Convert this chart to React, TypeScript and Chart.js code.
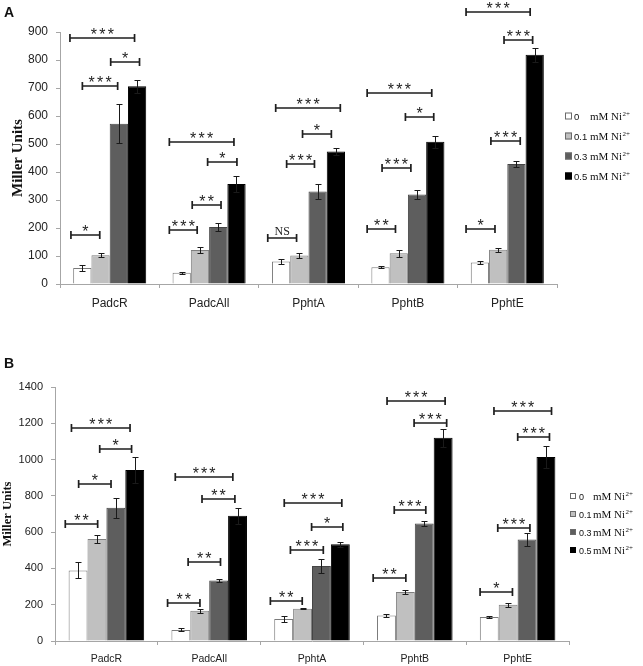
import React, { useEffect, useRef } from "react";
import { Chart, registerables } from "chart.js";

Chart.register(...registerables);

const SANS = '"Liberation Sans", Arial, sans-serif';
const SERIF = '"Liberation Serif", "Times New Roman", serif';

// ---------- shared data ----------
const categories = ["PadcR", "PadcAll", "PphtA", "PphtB", "PphtE"];
const doseLabels = ["0", "0.1", "0.3", "0.5"];
const unitLabel = "mM Ni";
const chargeLabel = "2+";
const fillColors = ["#ffffff", "#c0c0c0", "#5e5e5e", "#000000"];
const edgeColors = ["#7a7a7a", "#7f7f7f", "#454545", "#000000"];

// ---------- panel A ----------
const aTicks = { max: 900, step: 100 };
const aDose0 = [57, 40, 80, 60, 77];
const aDose01 = [103, 121, 102, 110, 122];
const aDose03 = [572, 204, 330, 320, 429];
const aDose05 = [706, 357, 473, 508, 819];
const aErr0 = [10, 4, 10, 3, 4];
const aErr01 = [6, 10, 10, 13, 8];
const aErr03 = [70, 15, 28, 17, 12];
const aErr05 = [24, 27, 12, 22, 25];
// [category index, left offset, right offset (category widths), y value, label]
const aBrackets: [number, number, number, number, string][] = [
  [0, -0.39, -0.1, 175, "*"],
  [0, -0.275, 0.08, 706, "***"],
  [0, 0.01, 0.3, 793, "*"],
  [0, -0.4, 0.25, 880, "***"],
  [1, -0.4, -0.12, 194, "***"],
  [1, -0.17, 0.12, 283, "**"],
  [1, -0.015, 0.28, 434, "*"],
  [1, -0.4, 0.25, 508, "***"],
  [2, -0.41, -0.12, 166, "NS"],
  [2, -0.22, 0.06, 427, "***"],
  [2, -0.06, 0.23, 536, "*"],
  [2, -0.33, 0.32, 628, "***"],
  [3, -0.41, -0.125, 195, "**"],
  [3, -0.26, 0.03, 414, "***"],
  [3, -0.025, 0.26, 596, "*"],
  [3, -0.41, 0.24, 681, "***"],
  [4, -0.415, -0.124, 196, "*"],
  [4, -0.165, 0.13, 511, "***"],
  [4, -0.033, 0.255, 870, "***"],
  [4, -0.415, 0.23, 970, "***"],
];

// ---------- panel B ----------
const bTicks = { max: 1400, step: 200 };
const bDose0 = [389, 61, 121, 141, 132];
const bDose01 = [562, 167, 178, 270, 200];
const bDose03 = [734, 334, 413, 648, 560];
const bDose05 = [942, 690, 533, 1120, 1014];
const bErr0 = [44, 8, 17, 10, 6];
const bErr01 = [20, 12, 4, 12, 10];
const bErr03 = [55, 10, 39, 12, 34];
const bErr05 = [70, 44, 15, 50, 63];
const bBrackets: [number, number, number, number, string][] = [
  [0, -0.4, -0.085, 645, "**"],
  [0, -0.27, 0.045, 865, "*"],
  [0, -0.065, 0.245, 1056, "*"],
  [0, -0.34, 0.23, 1175, "***"],
  [1, -0.405, -0.09, 211, "**"],
  [1, -0.205, 0.11, 435, "**"],
  [1, -0.07, 0.25, 784, "**"],
  [1, -0.33, 0.23, 905, "***"],
  [2, -0.405, -0.095, 222, "**"],
  [2, -0.21, 0.11, 501, "***"],
  [2, -0.004, 0.3, 628, "*"],
  [2, -0.27, 0.29, 762, "***"],
  [3, -0.405, -0.087, 347, "**"],
  [3, -0.2, 0.107, 720, "***"],
  [3, -0.007, 0.31, 1200, "***"],
  [3, -0.27, 0.295, 1321, "***"],
  [4, -0.365, -0.05, 270, "*"],
  [4, -0.193, 0.12, 623, "***"],
  [4, 0.001, 0.31, 1122, "***"],
  [4, -0.23, 0.33, 1266, "***"],
];

// ---------- plugins ----------
const errorBarPlugin = {
  id: "errorBars",
  afterDatasetsDraw(chart: any, _args: any, opts: any) {
    const errs: number[][] = opts.errors;
    const ys = chart.scales.y;
    const ctx = chart.ctx;
    ctx.save();
    ctx.strokeStyle = "#1a1a1a";
    ctx.lineWidth = 1;
    chart.data.datasets.forEach((ds: any, i: number) => {
      const meta = chart.getDatasetMeta(i);
      meta.data.forEach((bar: any, j: number) => {
        const v = ds.data[j] as number;
        const e = errs[i][j];
        const top = Math.round(ys.getPixelForValue(v + e)) + 0.5;
        const bot = Math.round(ys.getPixelForValue(v - e)) + 0.5;
        const x = Math.round(bar.x) + 0.5;
        ctx.beginPath();
        ctx.moveTo(x, top);
        ctx.lineTo(x, bot);
        ctx.moveTo(x - 3, top);
        ctx.lineTo(x + 3, top);
        ctx.moveTo(x - 3, bot);
        ctx.lineTo(x + 3, bot);
        ctx.stroke();
      });
    });
    ctx.restore();
  },
};

const bracketPlugin = {
  id: "sigBrackets",
  afterDraw(chart: any, _args: any, opts: any) {
    const xs = chart.scales.x;
    const ys = chart.scales.y;
    const ctx = chart.ctx;
    const catW = xs.width / chart.data.labels.length;
    ctx.save();
    ctx.strokeStyle = "#1e1e1e";
    ctx.fillStyle = "#1e1e1e";
    ctx.lineWidth = 1.7;
    (opts.brackets as [number, number, number, number, string][]).forEach(
      ([c, o1, o2, v, label]) => {
        const cx = xs.getPixelForValue(c);
        const x1 = cx + o1 * catW;
        const x2 = cx + o2 * catW;
        const y = Math.round(ys.getPixelForValue(v));
        ctx.beginPath();
        ctx.moveTo(x1, y);
        ctx.lineTo(x2, y);
        ctx.moveTo(x1, y - 4);
        ctx.lineTo(x1, y + 4);
        ctx.moveTo(x2, y - 4);
        ctx.lineTo(x2, y + 4);
        ctx.stroke();
        const mid = (x1 + x2) / 2;
        ctx.textAlign = "center";
        ctx.textBaseline = "alphabetic";
        if (label === "NS") {
          ctx.font = `12px ${SERIF}`;
          ctx.fillText(label, mid, y - 3);
        } else {
          ctx.font = `16px ${SANS}`;
          const n = label.length;
          const gap = opts.starGap;
          for (let k = 0; k < n; k++) {
            ctx.fillText("*", mid + (k - (n - 1) / 2) * gap, y + 1.5);
          }
        }
      }
    );
    ctx.restore();
  },
};

const doseLegendPlugin = {
  id: "doseLegend",
  afterDraw(chart: any, _args: any, opts: any) {
    const ctx = chart.ctx;
    const left = chart.chartArea.right + opts.dx;
    ctx.save();
    doseLabels.forEach((d, i) => {
      const cy = opts.firstY + i * opts.spacing;
      const box = opts.box;
      ctx.fillStyle = fillColors[i];
      ctx.fillRect(left, cy - box / 2, box, box);
      ctx.strokeStyle = i === 3 ? "#000" : "#6a6a6a";
      ctx.lineWidth = 1;
      ctx.strokeRect(left + 0.5, cy - box / 2 + 0.5, box - 1, box - 1);
      ctx.fillStyle = "#111";
      ctx.textAlign = "left";
      ctx.textBaseline = "alphabetic";
      const base = cy + 4;
      ctx.font = `${opts.numFont}px ${SANS}`;
      ctx.fillText(d, left + box + opts.numGap, base);
      ctx.font = `11px ${SERIF}`;
      const ux = left + opts.unitX;
      ctx.fillText(unitLabel, ux, base);
      const w = ctx.measureText(unitLabel).width;
      ctx.font = `7px ${SERIF}`;
      ctx.fillText(chargeLabel, ux + w + 0.5, base - 4);
    });
    ctx.restore();
  },
};

type PanelSpec = {
  values: number[][];
  errors: number[][];
  brackets: [number, number, number, number, string][];
  ticks: { max: number; step: number };
  height: number;
  padTop: number;
  padRight: number;
  yWidth: number;
  xHeight: number;
  xFont: number;
  yFont: number;
  xPad: number;
  titleFont: number;
  titlePad: number;
  legend: {
    dx: number;
    firstY: number;
    spacing: number;
    box: number;
    unitX: number;
    numFont: number;
    numGap: number;
  };
  starGap: number;
};

function makeConfig(p: PanelSpec): any {
  const axisColor = "#a6a6a6";
  return {
    type: "bar",
    data: {
      labels: categories,
      datasets: p.values.map((vals, i) => ({
        label: `${doseLabels[i]} ${unitLabel}${chargeLabel}`,
        data: vals,
        backgroundColor: fillColors[i],
        borderColor: edgeColors[i],
        borderWidth: 1,
        categoryPercentage: 0.735,
        barPercentage: 1,
      })),
    },
    options: {
      animation: false,
      responsive: false,
      events: [],
      layout: { padding: { top: p.padTop, right: p.padRight, bottom: 0, left: 0 } },
      scales: {
        x: {
          grid: {
            display: true,
            drawOnChartArea: false,
            drawTicks: true,
            tickLength: 4,
            color: axisColor,
            offset: true,
          },
          border: { color: axisColor, width: 1 },
          ticks: { font: { family: SANS, size: p.xFont }, color: "#222", padding: p.xPad },
          afterFit: (s: any) => {
            s.height = p.xHeight;
          },
        },
        y: {
          min: 0,
          max: p.ticks.max,
          ticks: {
            stepSize: p.ticks.step,
            font: { family: SANS, size: p.yFont },
            color: "#222",
            padding: 8,
            callback: (v: any) => String(v),
          },
          grid: {
            display: true,
            drawOnChartArea: false,
            drawTicks: true,
            tickLength: 4,
            color: axisColor,
          },
          border: { color: axisColor, width: 1 },
          title: {
            display: true,
            text: "Miller Units",
            font: { family: SERIF, size: p.titleFont, weight: "bold" },
            color: "#111",
            padding: { top: p.titlePad, bottom: 0 },
          },
          afterFit: (s: any) => {
            s.width = p.yWidth;
          },
        },
      },
      plugins: {
        legend: { display: false },
        tooltip: { enabled: false },
        errorBars: { errors: p.errors },
        sigBrackets: { brackets: p.brackets, starGap: p.starGap },
        doseLegend: p.legend,
      },
    },
    plugins: [errorBarPlugin, bracketPlugin, doseLegendPlugin],
  };
}

const panelA: PanelSpec = {
  values: [aDose0, aDose01, aDose03, aDose05],
  errors: [aErr0, aErr01, aErr03, aErr05],
  brackets: aBrackets,
  ticks: aTicks,
  height: 330,
  padTop: 32,
  padRight: 86,
  yWidth: 60,
  xHeight: 46,
  xFont: 12,
  yFont: 12,
  xPad: 8,
  titleFont: 15,
  titlePad: 9,
  legend: { dx: 8, firstY: 116, spacing: 20, box: 7, unitX: 25, numFont: 9.5, numGap: 2 },
  starGap: 8.5,
};

const panelB: PanelSpec = {
  values: [bDose0, bDose01, bDose03, bDose05],
  errors: [bErr0, bErr01, bErr03, bErr05],
  brackets: bBrackets,
  ticks: bTicks,
  height: 336,
  padTop: 57,
  padRight: 74,
  yWidth: 55,
  xHeight: 25,
  xFont: 10.5,
  yFont: 11,
  xPad: 8,
  titleFont: 12.5,
  titlePad: 0.5,
  legend: { dx: 1, firstY: 166, spacing: 18, box: 6, unitX: 23, numFont: 9, numGap: 3 },
  starGap: 8.3,
};

function ChartCanvas({ spec, top }: { spec: PanelSpec; top: number }) {
  const ref = useRef<HTMLCanvasElement | null>(null);
  useEffect(() => {
    if (!ref.current) return;
    const chart = new Chart(ref.current, makeConfig(spec));
    return () => chart.destroy();
  }, [spec]);
  return (
    <canvas
      ref={ref}
      width={643}
      height={spec.height}
      style={{ position: "absolute", left: 0, top, width: 643, height: spec.height }}
    />
  );
}

const letterStyle: React.CSSProperties = {
  position: "absolute",
  left: 4,
  fontFamily: SANS,
  fontWeight: "bold",
  fontSize: 14,
  lineHeight: "14px",
  color: "#111",
};

export default function App() {
  return (
    <div
      style={{
        position: "absolute",
        left: 0,
        top: 0,
        width: 643,
        height: 666,
        background: "#ffffff",
        overflow: "hidden",
      }}
    >
      <ChartCanvas spec={panelA} top={0} />
      <ChartCanvas spec={panelB} top={330} />
      <div style={{ ...letterStyle, top: 5 }}>A</div>
      <div style={{ ...letterStyle, top: 356 }}>B</div>
    </div>
  );
}
